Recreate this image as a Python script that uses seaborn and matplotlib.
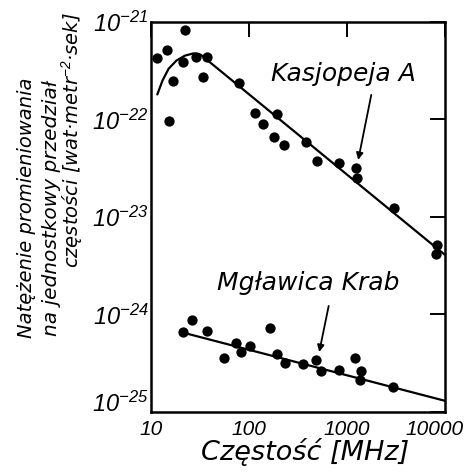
import matplotlib
matplotlib.use("Agg")
import matplotlib.pyplot as plt
import matplotlib.transforms as mtransforms
import seaborn as sns
import pandas as pd

# --- data ---
cas_freq = [22, 14.5, 11.5, 21, 28.5, 37, 16.5, 34, 79, 15, 115, 195, 140, 178, 230, 380, 500, 830, 1230, 1260, 3000, 8400, 8200]
cas_flux = [8.3e-22, 5.1e-22, 4.3e-22, 3.9e-22, 4.4e-22, 4.4e-22, 2.5e-22, 2.7e-22, 2.37e-22, 9.6e-23, 1.17e-22,
            1.14e-22, 9.0e-23, 6.6e-23, 5.5e-23, 5.8e-23, 3.7e-23, 3.6e-23, 3.2e-23, 2.5e-23, 1.23e-23, 5.1e-24, 4.2e-24]
cas_fit_freq = [11.5, 13, 15, 18, 22, 27, 32, 10000]
cas_fit_flux = [1.8e-22, 2.5e-22, 3.3e-22, 4.0e-22, 4.5e-22, 4.75e-22, 4.6e-22, 4.1e-24]

crab_freq = [21, 26, 37, 165, 74, 83, 103, 56, 195, 235, 360, 480, 540, 830, 1200, 1380, 1350, 2950]
crab_flux = [6.6e-25, 8.7e-25, 6.7e-25, 7.2e-25, 5.1e-25, 4.1e-25, 4.7e-25, 3.6e-25, 3.9e-25, 3.2e-25,
             3.1e-25, 3.4e-25, 2.6e-25, 2.7e-25, 3.6e-25, 2.6e-25, 2.1e-25, 1.8e-25]
crab_fit_freq = [21, 10000]
crab_fit_flux = [6.5e-25, 1.3e-25]

x_ticks = [10, 100, 1000, 10000]
x_tick_labels = ["10", "100", "1000", "10000"]
y_ticks = [1e-25, 1e-24, 1e-23, 1e-22, 1e-21]
y_tick_labels = [r"$10^{-25}$", r"$10^{-24}$", r"$10^{-23}$", r"$10^{-22}$", r"$10^{-21}$"]

sns.set_style("white")
plt.rcParams["font.family"] = ["DejaVu Sans"]
plt.rcParams["mathtext.fontset"] = "custom"
plt.rcParams["mathtext.rm"] = "Liberation Sans:italic"
plt.rcParams["mathtext.it"] = "Liberation Sans:italic"
plt.rcParams["mathtext.sf"] = "Liberation Sans:italic"
for k in ["text.color", "axes.labelcolor", "xtick.color", "ytick.color"]:
    plt.rcParams[k] = "black"

fig = plt.figure(figsize=(4.73, 4.75), dpi=100)
ax = fig.add_axes([0.320, 0.133, 0.620, 0.821])

cas_df = pd.DataFrame({"f": cas_freq, "s": cas_flux})
crab_df = pd.DataFrame({"f": crab_freq, "s": crab_flux})
cas_fit = pd.DataFrame({"f": cas_fit_freq, "s": cas_fit_flux})
crab_fit = pd.DataFrame({"f": crab_fit_freq, "s": crab_fit_flux})

sns.lineplot(data=cas_fit, x="f", y="s", ax=ax, color="black", lw=1.6, sort=False, estimator=None)
sns.lineplot(data=crab_fit, x="f", y="s", ax=ax, color="black", lw=1.6, sort=False, estimator=None)
sns.scatterplot(data=cas_df, x="f", y="s", ax=ax, color="black", s=55, edgecolor="black", linewidth=0, zorder=3)
sns.scatterplot(data=crab_df, x="f", y="s", ax=ax, color="black", s=55, edgecolor="black", linewidth=0, zorder=3)

ax.set_xscale("log")
ax.set_yscale("log")
ax.set_xlim(10, 10000)
ax.set_ylim(1e-25, 1e-21)
ax.minorticks_off()
ax.set_xticks(x_ticks)
ax.set_xticklabels(x_tick_labels, fontstyle="italic", fontsize=15,
                   family=["Liberation Sans", "DejaVu Sans"])
ax.set_yticks(y_ticks)
ax.set_yticklabels(y_tick_labels, fontsize=17)
ax.tick_params(axis="both", which="major", direction="in", length=11, width=1.4,
               top=True, right=True, colors="black")
ax.tick_params(axis="y", pad=2)
ax.tick_params(axis="x", pad=6)
for sp in ax.spines.values():
    sp.set_linewidth(1.8)
    sp.set_color("black")

# small label offsets as in the reference
last = ax.get_xticklabels()[-1]
last.set_transform(last.get_transform() + mtransforms.ScaledTranslation(-10 / 100, 0, fig.dpi_scale_trans))
first_y = ax.get_yticklabels()[0]
first_y.set_transform(first_y.get_transform() + mtransforms.ScaledTranslation(0, 10 / 100, fig.dpi_scale_trans))

ax.set_xlabel("Częstość [MHz]", fontsize=19.5, fontstyle="italic", va="top")
ax.xaxis.set_label_coords(0.525, -0.068)
ax.set_ylabel("")

fig.text(0.057, 0.562, "Natężenie promieniowania", rotation=90, ha="center", va="center",
         fontsize=14, fontstyle="italic")
fig.text(0.108, 0.562, "na jednostkowy przedział", rotation=90, ha="center", va="center",
         fontsize=14.5, fontstyle="italic")
fig.text(0.153, 0.705, "częstości [wat·metr$^{-2}$·sek]", rotation=90, ha="center", va="center",
         fontsize=14, fontstyle="italic")

ax.text(930, 2.9e-22, "Kasjopeja A", fontsize=18, fontstyle="italic", ha="center", va="center")
ax.annotate("", xy=(1290, 3.6e-23), xytext=(1800, 1.9e-22),
            arrowprops=dict(arrowstyle="-|>", color="black", lw=1.3, mutation_scale=10))
ax.text(400, 2.1e-24, "Mgławica Krab", fontsize=18, fontstyle="italic", ha="center", va="center")
ax.annotate("", xy=(515, 3.85e-25), xytext=(660, 1.3e-24),
            arrowprops=dict(arrowstyle="-|>", color="black", lw=1.3, mutation_scale=10))

fig.savefig("out.png", dpi=100, facecolor="white")
